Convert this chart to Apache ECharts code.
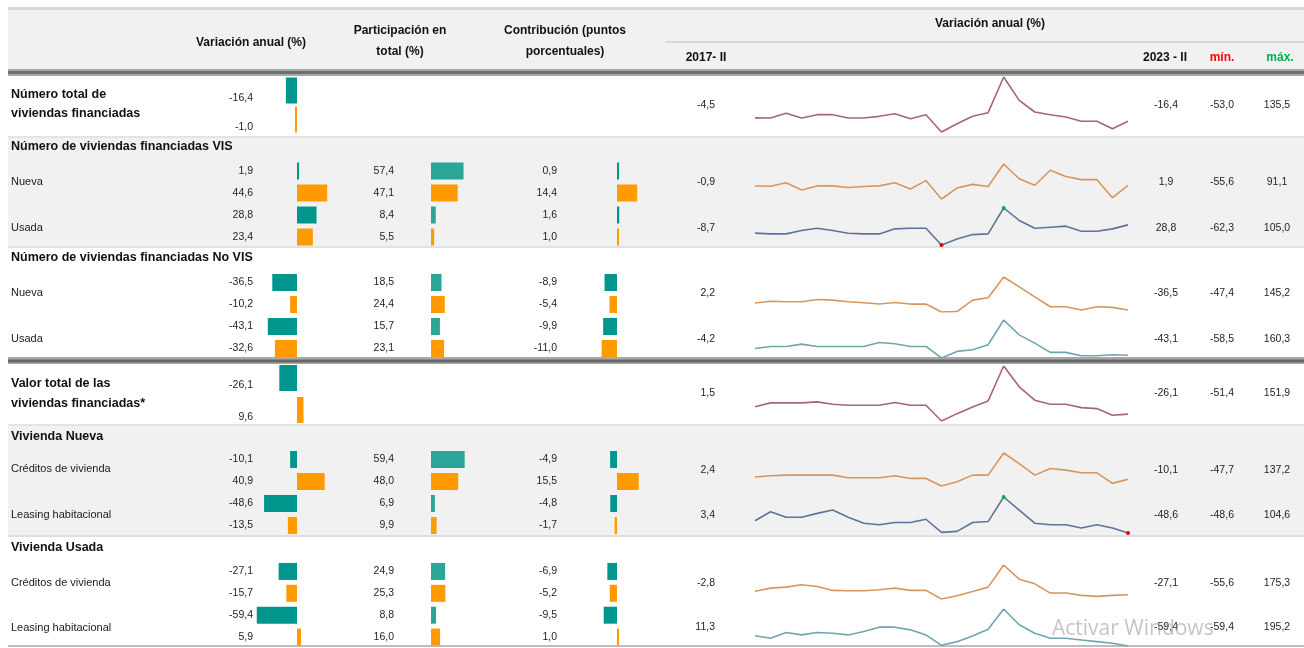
<!DOCTYPE html>
<html><head><meta charset="utf-8">
<script src="https://cdn.jsdelivr.net/npm/echarts@6/dist/echarts.min.js"></script>
<style>html,body{margin:0;padding:0;background:#fff}#c{width:1304px;height:648px}</style>
</head><body><div id="c"></div>
<script>
// ---------- DATA ----------
const quarters = ['2017-II','2017-III','2017-IV','2018-I','2018-II','2018-III','2018-IV','2019-I','2019-II','2019-III','2019-IV','2020-I','2020-II','2020-III','2020-IV','2021-I','2021-II','2021-III','2021-IV','2022-I','2022-II','2022-III','2022-IV','2023-I','2023-II'];

// Bars: [2023-II, 2022-II] pairs per sub-row
const totalVar   = [-16.4, -1.0];
const visVar     = [1.9, 44.6, 28.8, 23.4];
const visPart    = [57.4, 47.1, 8.4, 5.5];
const visContrib = [0.9, 14.4, 1.6, 1.0];
const noVisVar     = [-36.5, -10.2, -43.1, -32.6];
const noVisPart    = [18.5, 24.4, 15.7, 23.1];
const noVisContrib = [-8.9, -5.4, -9.9, -11.0];
const valorVar   = [-26.1, 9.6];
const vnVar      = [-10.1, 40.9, -48.6, -13.5];
const vnPart     = [59.4, 48.0, 6.9, 9.9];
const vnContrib  = [-4.9, 15.5, -4.8, -1.7];
const vuVar      = [-27.1, -15.7, -59.4, 5.9];
const vuPart     = [24.9, 25.3, 8.8, 16.0];
const vuContrib  = [-6.9, -5.2, -9.5, 1.0];

// Sparklines (variación anual %, 2017-II .. 2023-II)
const spTotal     = [-4.5, -5.0, 11.0, -5.0, 6.4, 6.4, -5.0, -5.0, 0.7, 9.8, -7.3, 6.4, -53.0, -24.5, 0.7, 13.3, 135.5, 55.5, 15.5, 6.4, -1.5, -16.4, -16.4, -41.6, -16.4];
const spVisNueva  = [-0.9, -2.0, 12.4, -17.8, -0.7, -0.7, -7.3, -3.4, -0.7, 12.4, -13.9, 21.6, -55.6, -9.9, 5.8, -3.4, 91.1, 29.4, 1.9, 64.9, 38.6, 25.5, 25.5, -50.0, 1.9];
const spVisUsada  = [-8.7, -12.1, -12.1, 3.1, 13.7, 3.1, -9.1, -12.1, -12.1, 10.7, 13.7, 13.7, -62.3, -34.9, -15.2, -12.1, 105.0, 48.7, 13.7, 18.3, 22.9, 0.0, 0.0, 10.7, 28.8];
const spNoVisNueva= [2.2, 12.0, 8.9, 8.9, 21.6, 18.0, 8.9, 3.5, -3.8, 5.3, -3.8, -3.8, -47.4, -45.0, 18.0, 30.7, 145.2, 90.7, 36.2, -18.3, -18.3, -36.5, -18.3, -22.0, -36.5];
const spNoVisUsada= [-4.2, 8.1, 8.1, 21.4, 8.1, 8.1, 8.1, 8.1, 30.9, 23.3, 8.1, 8.1, -58.5, -20.5, -11.0, 17.6, 160.3, 74.7, 27.1, -26.2, -26.2, -45.2, -45.2, -39.5, -43.1];
const spValor     = [1.5, 15.5, 15.5, 15.5, 19.2, 10.5, 6.8, 6.8, 6.8, 16.7, 6.8, 6.8, -51.4, -24.2, 0.6, 22.9, 151.9, 75.0, 25.4, 10.5, 10.5, -1.9, -5.6, -30.4, -26.1];
const spVNCred    = [2.4, 9.6, 13.3, 13.3, 13.3, 13.3, -1.5, -1.5, -1.5, 9.6, -5.2, -5.2, -47.7, -23.7, 13.3, 13.3, 137.2, 78.0, 13.3, 50.3, 41.1, 26.3, 26.3, -33.0, -10.1];
const spVNLeas    = [3.4, 41.9, 18.2, 18.2, 35.0, 48.9, 18.2, -6.8, -13.8, -4.1, -4.1, 9.9, -45.8, -41.7, -4.1, 0.1, 104.6, 48.9, -6.8, -13.8, -13.8, -27.7, -13.8, -27.7, -48.6];
const spVUCred    = [-2.8, 18.4, 25.1, 40.8, 29.6, 2.7, 0.4, 0.4, 7.2, 18.4, 2.7, 2.7, -55.6, -33.2, -4.1, 25.1, 175.3, 78.9, 47.5, -15.3, -15.3, -31.0, -37.7, -31.0, -27.1];
const spVULeas    = [11.3, -6.2, 33.1, 16.9, 33.1, 28.5, 16.9, 40.1, 70.2, 70.2, 51.7, 16.9, -54.8, -29.4, 10.0, 56.3, 195.2, 86.4, 28.5, -6.2, -6.2, -17.8, -29.4, -40.9, -59.4];

// ---------- STYLE / LAYOUT ----------
const NUMFONT = "'Liberation Sans Narrow','Liberation Sans',Arial,sans-serif";
const TXTFONT = "'Liberation Sans',Arial,sans-serif";
const ORANGE = '#ff9a00';
const TEAL1 = '#00968e';
const TEAL2 = '#2aa596';
const fmt = v => v.toFixed(1).replace('.', ',');

const grids = [], xAxes = [], yAxes = [], series = [], graphics = [];

function addBarGrid(data, col, top, height, barW, shiftDown) {
  const gi = grids.length;
  grids.push({left: col.left, width: col.width, top: top, height: height});
  xAxes.push({gridIndex: gi, type: 'value', min: col.min, max: col.max, show: false});
  const lab = {show: true, interval: 0, margin: col.margin, fontFamily: NUMFONT, fontSize: 10.5, color: '#1e1e1e',
      formatter: (v, i) => fmt(data[i])};
  if (shiftDown) { lab.verticalAlign = 'top'; lab.lineHeight = shiftDown * 2; }
  yAxes.push({gridIndex: gi, type: 'category', inverse: true, data: data.map((_, i) => 'r' + i),
    axisLine: {show: false}, axisTick: {show: false}, splitLine: {show: false}, axisLabel: lab});
  series.push({type: 'bar', xAxisIndex: gi, yAxisIndex: gi, barWidth: barW, barMinHeight: 2, silent: true,
    data: data.map((v, i) => ({value: v, itemStyle: {color: i % 2 === 0 ? col.teal : ORANGE}}))});
}

const C1 = {left: 255, width: 84, min: -62, max: 62, margin: 2, teal: TEAL1};
const C2 = {left: 431, width: 34, min: 0, max: 60, margin: 37, teal: TEAL2};
const C3 = {left: 596, width: 49, min: -15, max: 20, margin: 39, teal: TEAL1};

// sections
addBarGrid(totalVar, C1, 76, 58, 26, 7.5);
[[visVar, visPart, visContrib, 160], [noVisVar, noVisPart, noVisContrib, 271.5],
 [vnVar, vnPart, vnContrib, 448.5], [vuVar, vuPart, vuContrib, 560.5]].forEach(s => {
  addBarGrid(s[0], C1, s[3], 88, 17);
  addBarGrid(s[1], C2, s[3], 88, 17);
  addBarGrid(s[2], C3, s[3], 88, 17);
});
addBarGrid(valorVar, C1, 362, 64, 26, 7);

// sparklines
const MAROON = '#a4686d', TAN = '#d6975e', SLATE = '#5d7499', TEALG = '#70a6ae';
const sparks = [
  {d: spTotal, top: 77, h: 55, c: MAROON, ty: 105},
  {d: spVisNueva, top: 164, h: 35, c: TAN, ty: 182},
  {d: spVisUsada, top: 208, h: 37, c: SLATE, ty: 228, mk: true},
  {d: spNoVisNueva, top: 277, h: 35, c: TAN, ty: 293},
  {d: spNoVisUsada, top: 320, h: 38, c: TEALG, ty: 339},
  {d: spValor, top: 366, h: 55, c: MAROON, ty: 393},
  {d: spVNCred, top: 453, h: 33, c: TAN, ty: 470},
  {d: spVNLeas, top: 497, h: 36, c: SLATE, ty: 515, mk: true},
  {d: spVUCred, top: 565, h: 34, c: TAN, ty: 583},
  {d: spVULeas, top: 609, h: 37, c: TEALG, ty: 627}
];
sparks.forEach(s => {
  const gi = grids.length;
  grids.push({left: 755, width: 373, top: s.top, height: s.h});
  xAxes.push({gridIndex: gi, type: 'category', data: quarters, boundaryGap: false, show: false});
  yAxes.push({gridIndex: gi, type: 'value', min: 'dataMin', max: 'dataMax', show: false, scale: true});
  const ser = {type: 'line', xAxisIndex: gi, yAxisIndex: gi, data: s.d, symbol: 'none', silent: true,
    lineStyle: {color: s.c, width: 1.6}};
  if (s.mk) {
    ser.markPoint = {symbol: 'circle', symbolSize: 4, label: {show: false}, silent: true,
      data: [{type: 'max', itemStyle: {color: '#00b050'}}, {type: 'min', itemStyle: {color: '#e00000'}}]};
  }
  series.push(ser);
  const mn = Math.min(...s.d), mx = Math.max(...s.d);
  const num = (t, x, al) => graphics.push({type: 'text', z: 10, style: {text: t, x: x, y: s.ty, font: '10.5px ' + NUMFONT, fill: '#1e1e1e', align: al, verticalAlign: 'middle'}});
  num(fmt(s.d[0]), 715, 'right');
  num(fmt(s.d[s.d.length - 1]), 1166, 'center');
  num(fmt(mn), 1222, 'center');
  num(fmt(mx), 1277, 'center');
});

// ---------- BACKGROUND / TABLE GRAPHICS ----------
const rect = (y, h, fill, x, w) => ({type: 'rect', z: -5, shape: {x: x == null ? 8 : x, y: y, width: w == null ? 1296 : w, height: h}, style: {fill: fill}});
const bg = [
  rect(7, 3, '#d6d6d6'),
  rect(10, 59, '#f1f1f1'),
  rect(69, 7, '#a8a8a8'), rect(71, 3, '#6f6f6f'),
  rect(136, 2, '#e4e4e4'),
  rect(138, 108, '#f1f1f1'),
  rect(246, 2, '#e2e2e2'),
  rect(357, 7, '#a8a8a8'), rect(359.5, 3, '#666666'),
  rect(424, 2, '#e4e4e4'),
  rect(426, 109, '#f1f1f1'),
  rect(535, 2, '#dedede'),
  rect(645, 2, '#bdbdbd'),
  {type: 'line', z: -4, shape: {x1: 665, y1: 42, x2: 1304, y2: 42}, style: {stroke: '#cfcfcf', lineWidth: 1.5}}
];
bg.forEach(g => graphics.push(g));

const txt = (t, x, y, opts) => graphics.push({type: 'text', z: 10, style: Object.assign({text: t, x: x, y: y, font: '11px ' + TXTFONT, fill: '#1a1a1a', align: 'left', verticalAlign: 'middle'}, opts || {})});
const B = {font: 'bold 12.5px ' + TXTFONT, fill: '#111'};
const H = {font: 'bold 12px ' + TXTFONT, fill: '#111', align: 'center'};

// header
txt('Variación anual (%)', 251, 43, H);
txt('Participación en', 400, 31, H);
txt('total (%)', 400, 52, H);
txt('Contribución (puntos', 565, 31, H);
txt('porcentuales)', 565, 52, H);
txt('Variación anual (%)', 990, 24, H);
txt('2017- II', 706, 58, H);
txt('2023 - II', 1165, 58, H);
txt('mín.', 1222, 58, Object.assign({}, H, {fill: '#ff0000'}));
txt('máx.', 1280, 58, Object.assign({}, H, {fill: '#00b050'}));

// row labels
txt('Número total de', 11, 95, B);
txt('viviendas financiadas', 11, 114, B);
txt('Número de viviendas financiadas VIS', 11, 147, B);
txt('Nueva', 11, 182);
txt('Usada', 11, 228);
txt('Número de viviendas financiadas No VIS', 11, 258, B);
txt('Nueva', 11, 293);
txt('Usada', 11, 339);
txt('Valor total de las', 11, 384, B);
txt('viviendas financiadas*', 11, 404, B);
txt('Vivienda Nueva', 11, 437, B);
txt('Créditos de vivienda', 11, 469);
txt('Leasing habitacional', 11, 515);
txt('Vivienda Usada', 11, 548, B);
txt('Créditos de vivienda', 11, 583);
txt('Leasing habitacional', 11, 628);

// OS watermark present in the screenshot
graphics.push({type: 'text', z: 100, style: {text: 'Activar Windows', x: 1052, y: 629, font: '21px ' + "'Open Sans','Noto Sans',sans-serif", fill: 'rgba(150,150,150,0.55)', align: 'left', verticalAlign: 'middle'}});

const chart = echarts.init(document.getElementById('c'));
chart.setOption({
  animation: false,
  backgroundColor: '#ffffff',
  grid: grids, xAxis: xAxes, yAxis: yAxes, series: series,
  graphic: {elements: graphics}
});
</script>
</body></html>
